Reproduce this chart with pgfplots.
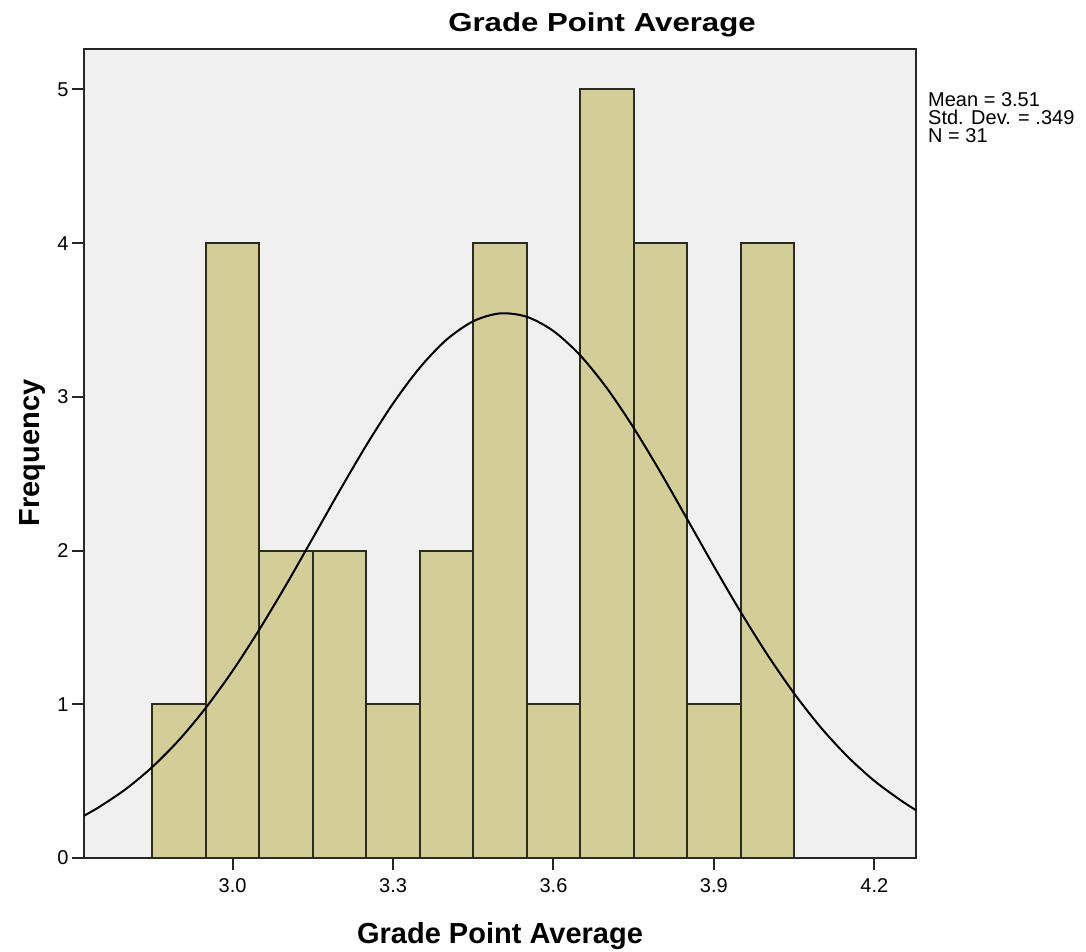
\documentclass[border=0pt]{standalone}
\usepackage{fontspec}
\setmainfont{Liberation Sans}
\newfontfamily\titlefont[FakeStretch=1.2]{Liberation Sans}
\usepackage{pgfplots}
\pgfplotsset{compat=1.18}
\definecolor{bgc}{HTML}{F0F0F0}
\definecolor{barc}{HTML}{D3CE98}
\definecolor{edgec}{HTML}{2B2B1E}
\begin{document}
\begin{tikzpicture}
\path[use as bounding box] (-84pt,-93pt) rectangle (1002pt,858pt);
\begin{axis}[
  name=ax, at={(0pt,0pt)}, anchor=south west,
  scale only axis, width=832pt, height=809pt,
  xmin=2.722, xmax=4.278, ymin=0, ymax=5.263,
  axis background/.style={fill=bgc},
  axis line style={line width=2pt, color=black!85},
  xtick={3.0,3.3,3.6,3.9,4.2},
  xticklabels={3.0,3.3,3.6,3.9,4.2},
  ytick={0,1,2,3,4,5},
  tick align=outside, major tick length=12pt,
  tick style={line width=2pt, black!85},
  tick pos=left,
  ticklabel style={font=\fontsize{20}{20}\selectfont},
  xticklabel style={yshift=-5pt},
  /pgf/number format/assume math mode=true,
]
\addplot[ybar interval, fill=barc, draw=edgec, line width=2pt] coordinates {
(2.85,1) (2.95,4) (3.05,2) (3.15,2) (3.25,1) (3.35,2) (3.45,4) (3.55,1) (3.65,5) (3.75,4) (3.85,1) (3.95,4) (4.05,0)
};
\addplot[smooth, black, line width=2pt] coordinates {
(2.722,0.275) (2.75,0.331) (2.80,0.448) (2.85,0.593) (2.90,0.769) (2.95,0.978) (3.00,1.218) (3.05,1.487) (3.10,1.777) (3.15,2.082) (3.20,2.389) (3.25,2.685) (3.30,2.957) (3.35,3.190) (3.40,3.372) (3.45,3.492) (3.50,3.543) (3.55,3.521) (3.60,3.428) (3.65,3.270) (3.70,3.056) (3.75,2.798) (3.80,2.510) (3.85,2.205) (3.90,1.898) (3.95,1.601) (4.00,1.323) (4.05,1.071) (4.10,0.849) (4.15,0.660) (4.20,0.502) (4.25,0.374) (4.278,0.311)
};
\end{axis}
\node[font=\titlefont\bfseries\fontsize{26}{26}\selectfont, anchor=base, inner sep=0pt] at (518pt,826pt) {Grade Point Average};
\node[font=\bfseries\fontsize{29}{29}\selectfont, anchor=base, inner sep=0pt] at (416pt,-85pt) {Grade Point Average};
\node[font=\bfseries\fontsize{29}{29}\selectfont, rotate=90, anchor=base, inner sep=0pt] at (-44pt,405pt) {Frequency};
\node[font=\fontsize{20}{20}\selectfont, anchor=base west, inner sep=0pt] at (844pt,751pt) {Mean = 3.51};
\node[font=\fontsize{20}{20}\selectfont, anchor=base west, inner sep=0pt] at (844pt,733pt) {Std. Dev. = .349};
\node[font=\fontsize{20}{20}\selectfont, anchor=base west, inner sep=0pt] at (844pt,715pt) {N = 31};
\end{tikzpicture}
\end{document}
